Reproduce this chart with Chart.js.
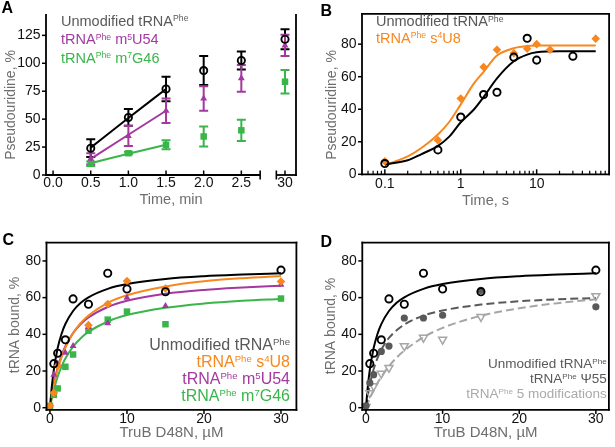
<!DOCTYPE html>
<html><head><meta charset="utf-8">
<script src="https://cdn.jsdelivr.net/npm/chart.js@4.4.1/dist/chart.umd.min.js"></script>
<style>
html,body{margin:0;padding:0;background:#fff;}
#fig{position:relative;width:615px;height:447px;overflow:hidden;font-family:"Liberation Sans",Arial,Helvetica,sans-serif;}
#fig canvas{position:absolute;}
.t{position:absolute;white-space:nowrap;line-height:1;}
.p{font-size:0.6em;position:relative;top:-0.52em;}
.L{font-weight:bold;color:#000;font-size:16px;}
</style></head><body>
<div id="fig">
<canvas id="cA"></canvas><canvas id="cB"></canvas><canvas id="cC"></canvas><canvas id="cD"></canvas>

<div class="t L" style="left:1.5px;top:0px">A</div>
<div class="t L" style="left:320.5px;top:2.5px">B</div>
<div class="t L" style="left:2.5px;top:231.8px">C</div>
<div class="t L" style="left:320.5px;top:233.5px">D</div>

<div class="t" style="left:61px;top:13.7px;font-size:14.5px;color:#58595b">Unmodified tRNA<span class="p">Phe</span></div>
<div class="t" style="left:61px;top:32.2px;font-size:14.5px;color:#a3399f">tRNA<span class="p">Phe</span> m<span class="p">5</span>U54</div>
<div class="t" style="left:61px;top:50.7px;font-size:14.5px;color:#39b54a">tRNA<span class="p">Phe</span> m<span class="p">7</span>G46</div>

<div class="t" style="left:376px;top:14.4px;font-size:14.5px;color:#58595b">Unmodified tRNA<span class="p">Phe</span></div>
<div class="t" style="left:376px;top:31px;font-size:14.5px;color:#f7871f">tRNA<span class="p">Phe</span> s<span class="p">4</span>U8</div>

<div class="t" style="right:325px;top:336.8px;font-size:16px;color:#58595b">Unmodified tRNA<span class="p">Phe</span></div>
<div class="t" style="right:325px;top:354px;font-size:16px;color:#f7871f">tRNA<span class="p">Phe</span> s<span class="p">4</span>U8</div>
<div class="t" style="right:325px;top:371.2px;font-size:16px;color:#a3399f">tRNA<span class="p">Phe</span> m<span class="p">5</span>U54</div>
<div class="t" style="right:325px;top:388.4px;font-size:16px;color:#39b54a">tRNA<span class="p">Phe</span> m<span class="p">7</span>G46</div>

<div class="t" style="right:8.3px;top:356.9px;font-size:13.5px;color:#58595b">Unmodified tRNA<span class="p">Phe</span></div>
<div class="t" style="right:8.3px;top:371.9px;font-size:13.5px;color:#58595b">tRNA<span class="p">Phe</span> Ψ55</div>
<div class="t" style="right:8.3px;top:386.9px;font-size:13.5px;color:#a9a9a9">tRNA<span class="p">Phe</span> 5 modifications</div>
</div>

<script>
// ================= DATA =================
// Panel A : pseudouridine formation (%), time in min
const A_TIMES      = [0.5, 1, 1.5, 2, 2.5, 30];
const A_UNMOD      = [24, 51.5, 77, 93.5, 102.5, 121.5];
const A_UNMOD_ERR  = [8, 7.5, 11, 13, 8, 9];
const A_M5U54      = [14.5, 35, 57.5, 68.5, 86.5, 116];
const A_M5U54_ERR  = [5, 9, 11, 11, 12, 9.5];
const A_M7G46      = [10, 19.5, 27, 34.5, 40, 83.5];
const A_M7G46_ERR  = [2, 1.2, 4, 9, 9.5, 10.5];
const A_FIT_TIMES  = [0.5, 1, 1.5];
const A_UNMOD_FIT  = [24.5, 51, 77];
const A_M5U54_FIT  = [14.5, 36, 57.5];
const A_M7G46_FIT  = [10.5, 19, 27];
const A_X_TICKS    = [0, 0.5, 1, 1.5, 2, 2.5, 30];
const A_X_LABELS   = ['0.0', '0.5', '1.0', '1.5', '2.0', '2.5', '30'];
const A_Y_TICKS    = [0, 25, 50, 75, 100, 125];

// Panel B : pseudouridine (%), time in s (log)
const B_UNMOD_T    = [0.1, 0.5, 1, 2, 3, 5, 7.5, 10, 30];
const B_UNMOD      = [6.6, 15, 35.2, 49, 50.4, 72, 83.6, 70.2, 72.6];
const B_S4U8_T     = [0.1, 0.5, 1, 2, 3, 5, 7.5, 10, 15, 60];
const B_S4U8       = [8, 21, 46.6, 66, 76.6, 74.4, 77.2, 80, 76.6, 83.4];
const B_FIT_T      = [0.1, 0.2, 0.3, 0.5, 0.7, 1, 1.5, 2, 3, 5, 7.5, 10, 20, 60];
const B_UNMOD_FIT  = [6, 8.6, 12.3, 17.5, 23, 32, 40, 47.5, 59, 69.5, 73.6, 75, 75.6, 75.6];
const B_S4U8_FIT   = [5.6, 11, 16, 24.5, 32, 43, 56, 63, 73, 77.5, 78.8, 79.1, 79.2, 79.2];
const B_X_TICKS    = [0.1, 1, 10];
const B_X_LABELS   = ['0.1', '1', '10'];
const B_X_MINOR    = [0.06, 0.07, 0.08, 0.09, 0.2, 0.3, 0.4, 0.5, 0.6, 0.7, 0.8, 0.9,
                      2, 3, 4, 5, 6, 7, 8, 9, 20, 30, 40, 50, 60, 70, 80, 90];
const B_Y_TICKS    = [0, 20, 40, 60, 80];

// Panels C & D : tRNA bound (%), TruB D48N (µM)
const CONC         = [0, 0.5, 1, 2, 3, 5, 7.5, 10, 15, 30];
const BIND_UNMOD   = [null, 24, 29.7, 37, 59.3, 56.4, 73.3, 64.7, 63.2, 75];
const BIND_S4U8    = [1, 8, 22.7, null, null, 45, 56.5, 69, 65, 68.8];
const BIND_M5U54   = [1, 18, 24, 30, 33.6, 44, 46, 60, 55.5, 67];
const BIND_M7G46   = [1, 7, 10.5, 22.3, 29, 42, 48, 52.4, 45.5, 59.5];
const BIND_PSI55   = [1, 13.5, 18, 30.7, 33.6, 48.9, 48.9, 50.4, 64, 55];
const BIND_5MOD    = [0.5, 8, 11.8, 18.6, 21.8, 33.6, 38.2, 37.1, 49.5, 60.9];
const FIT_CONC     = [0, 0.25, 0.5, 1, 1.5, 2, 3, 4, 5, 7.5, 10, 15, 20, 25, 30];
const FIT_UNMOD    = [0, 11.9, 20.6, 32.5, 40.2, 45.6, 52.7, 57.2, 60.2, 64.8, 67.4, 70.2, 71.7, 72.6, 73.3];
const FIT_S4U8     = [0, 6.4, 11.9, 20.7, 27.4, 32.7, 40.6, 46.2, 50.3, 57.2, 61.3, 66.1, 68.9, 70.6, 71.8];
const FIT_M5U54    = [0, 7.1, 12.9, 21.9, 28.4, 33.5, 40.7, 45.6, 49.2, 54.9, 58.3, 62.1, 64.2, 65.5, 66.5];
const FIT_M7G46    = [0, 5.2, 9.7, 16.9, 22.4, 26.8, 33.3, 37.9, 41.3, 47.0, 50.5, 54.5, 56.8, 58.3, 59.3];
const FIT_PSI55    = [0, 6.9, 12.5, 21, 27, 31.6, 38, 42.2, 45.3, 50.2, 53, 56.2, 58, 59.1, 59.8];
const FIT_5MOD     = [0, 2.6, 5.1, 9.5, 13.4, 16.8, 22.6, 27.3, 31.1, 38.4, 43.5, 50.1, 54.2, 57, 59.1];
const CD_X_TICKS   = [0, 10, 20, 30];
const CD_Y_TICKS   = [0, 20, 40, 60, 80];

// ================= STYLE / LAYOUT =================
const C_BLACK = '#000000', C_MAG = '#a3399f', C_GRN = '#39b54a', C_ORG = '#f7871f',
      C_DG = '#595959', C_LG = '#a6a6a6', C_TITLE = '#6e6e6e';
const FONT = '"Liberation Sans", Arial, Helvetica, sans-serif';
Chart.defaults.font.family = FONT;
Chart.defaults.font.size = 14;
Chart.defaults.color = '#111';

// broken time axis of panel A: 30 min drawn after a gap
const A_BREAK = { start: 2.75, end: 2.965, farPos: 3.08 };
const posA = t => (t > A_BREAK.end ? A_BREAK.farPos : t);

const GEO = {
  A: { x: 0,   y: 0,   w: 307, h: 223, l: 46,   t: 10,   r: 296,   b: 175,   pb: 10.6 },
  B: { x: 307, y: 0,   w: 308, h: 223, l: 55,   t: 10,   r: 304.5, b: 174.3, pb: 9.6 },
  C: { x: 0,   y: 223, w: 307, h: 224, l: 46.5, t: 19.6, r: 296.4, b: 186.9, pb: 1 },
  D: { x: 307, y: 223, w: 308, h: 224, l: 55.3, t: 19.6, r: 303,   b: 186.9, pb: 1 }
};

// ================= PLUGINS =================
const errorBars = {
  id: 'errorBars',
  beforeDatasetsDraw(chart) {
    const ctx = chart.ctx, ys = chart.scales.y;
    chart.data.datasets.forEach((ds, i) => {
      if (!ds.errors) return;
      const meta = chart.getDatasetMeta(i);
      ctx.save();
      ctx.strokeStyle = ds.errColor; ctx.lineWidth = 2;
      meta.data.forEach((pt, j) => {
        const v = ds.data[j].y, e = ds.errors[j];
        const y1 = ys.getPixelForValue(v + e), y2 = ys.getPixelForValue(v - e), x = pt.x, w = 4.5;
        ctx.beginPath();
        ctx.moveTo(x, y1); ctx.lineTo(x, y2);
        ctx.moveTo(x - w, y1); ctx.lineTo(x + w, y1);
        ctx.moveTo(x - w, y2); ctx.lineTo(x + w, y2);
        ctx.stroke();
      });
      ctx.restore();
    });
  }
};

const deco = {
  id: 'deco',
  afterDraw(chart, _a, o) {
    const { ctx, chartArea: a } = chart;
    const xs = chart.scales.x, ys = chart.scales.y;
    ctx.save();
    ctx.strokeStyle = '#000';
    const line = (x1, y1, x2, y2) => { ctx.beginPath(); ctx.moveTo(x1, y1); ctx.lineTo(x2, y2); ctx.stroke(); };
    ctx.lineWidth = 1.8;
    const h = 0.9;
    if (o.left) line(a.left, a.top - (o.top ? h : 0), a.left, a.bottom + h);
    if (o.right) line(a.right, a.top - (o.top ? h : 0), a.right, a.bottom + h);
    if (o.top) line(a.left - h, a.top, a.right + h, a.top);
    if (o.xBreak) {
      const p1 = xs.getPixelForValue(o.xBreak[0]), p2 = xs.getPixelForValue(o.xBreak[1]);
      line(a.left - h, a.bottom, p1, a.bottom);
      line(p2, a.bottom, a.right + h, a.bottom);
      ctx.lineWidth = 1.6;
      line(p1, a.bottom - 4.5, p1, a.bottom + 4.5);
      line(p2, a.bottom - 4.5, p2, a.bottom + 4.5);
    } else {
      line(a.left - h, a.bottom, a.right + h, a.bottom);
    }
    ctx.lineWidth = 1.5;
    const xt = o.xTick;
    xs.ticks.forEach(t => {
      const p = xs.getPixelForValue(t.value);
      line(p, a.bottom, p, a.bottom + (xt.dir === 'in' ? -xt.len : xt.len));
    });
    if (o.xMinor) {
      ctx.lineWidth = 1.2;
      o.xMinor.values.forEach(v => {
        const p = xs.getPixelForValue(v);
        line(p, a.bottom, p, a.bottom + (o.xMinor.dir === 'in' ? -o.xMinor.len : o.xMinor.len));
      });
    }
    ctx.lineWidth = 1.5;
    const yt = o.yTick;
    ys.ticks.forEach(t => {
      const p = ys.getPixelForValue(t.value);
      line(a.left, p, a.left + (yt.dir === 'in' ? yt.len : -yt.len), p);
    });
    if (o.yTitle) {
      ctx.translate(o.yTitle.cx, o.yTitle.cy);
      ctx.rotate(-Math.PI / 2);
      ctx.fillStyle = C_TITLE;
      ctx.font = o.yTitle.size + 'px ' + FONT;
      ctx.textAlign = 'center'; ctx.textBaseline = 'middle';
      ctx.fillText(o.yTitle.text, 0, 0);
    }
    ctx.restore();
  }
};

// ================= HELPERS =================
const pts = (xs, ys, map) => xs.map((x, i) => ({ x: map ? map(x) : x, y: ys[i] })).filter(p => p.y != null);

function marks(xs, ys, style, map) {
  return Object.assign({ data: pts(xs, ys, map), showLine: false, clip: false }, style);
}
function curve(xs, ys, color, dash, map) {
  return { data: pts(xs, ys, map), showLine: true, borderColor: color, borderWidth: 2,
           pointRadius: 0, borderDash: dash || [], cubicInterpolationMode: 'monotone',
           fill: false, clip: false };
}
function xScale(g, o) {
  return {
    type: o.type || 'linear', min: o.min, max: o.max,
    afterFit: s => { s.height = g.h - g.pb - g.b; },
    afterBuildTicks: s => { s.ticks = o.ticks.map(v => ({ value: v })); },
    ticks: { autoSkip: false, maxRotation: 0, minRotation: 0, padding: o.pad, color: '#111',
             font: { size: 14 }, callback: (v, i) => o.labels ? o.labels[i] : String(v) },
    grid: { display: false, drawTicks: false },
    border: { display: false },
    title: { display: true, text: o.title, color: C_TITLE, font: { size: o.tsize }, padding: { top: 0, bottom: 4 } }
  };
}
function yScale(g, o) {
  return {
    type: 'linear', min: o.min, max: o.max,
    afterFit: s => { s.width = g.l; },
    afterBuildTicks: s => { s.ticks = o.ticks.map(v => ({ value: v })); },
    ticks: { autoSkip: false, padding: 5.5, color: '#111', font: { size: 14 }, callback: v => String(v) },
    grid: { display: false, drawTicks: false },
    border: { display: false },
    title: { display: false }
  };
}
function build(id, g, datasets, xs, ys, decoOpts) {
  const cv = document.getElementById(id);
  cv.width = g.w; cv.height = g.h;
  cv.style.left = g.x + 'px'; cv.style.top = g.y + 'px';
  cv.style.width = g.w + 'px'; cv.style.height = g.h + 'px';
  return new Chart(cv, {
    type: 'scatter',
    data: { datasets },
    options: {
      responsive: false, animation: false, devicePixelRatio: 1, events: [],
      layout: { padding: { left: 0, top: g.t, right: g.w - g.r, bottom: g.pb } },
      plugins: { legend: { display: false }, tooltip: { enabled: false }, deco: decoOpts },
      scales: { x: xs, y: ys }
    },
    plugins: [errorBars, deco]
  });
}

const openCircle = c => ({ pointStyle: 'circle', pointRadius: 3.6, pointBorderWidth: 1.9,
                           pointBorderColor: c, pointBackgroundColor: 'rgba(0,0,0,0)' });
const filled = (shape, r, c, rot) => ({ pointStyle: shape, pointRadius: r, pointBorderWidth: 0,
                           pointBorderColor: c, pointBackgroundColor: c, pointRotation: rot || 0 });

// ================= PANEL A =================
build('cA', GEO.A, [
  marks(A_TIMES, A_UNMOD, Object.assign(openCircle(C_BLACK), { errors: A_UNMOD_ERR, errColor: C_BLACK }), posA),
  marks(A_TIMES, A_M5U54, Object.assign(filled('triangle', 4, C_MAG), { errors: A_M5U54_ERR, errColor: C_MAG }), posA),
  marks(A_TIMES, A_M7G46, Object.assign(filled('rect', 4.6, C_GRN), { errors: A_M7G46_ERR, errColor: C_GRN }), posA),
  curve(A_FIT_TIMES, A_UNMOD_FIT, C_BLACK),
  curve(A_FIT_TIMES, A_M5U54_FIT, C_MAG),
  curve(A_FIT_TIMES, A_M7G46_FIT, C_GRN)
],
  xScale(GEO.A, { min: -0.094, max: 3.226, ticks: A_X_TICKS.map(posA), labels: A_X_LABELS, pad: 0, title: 'Time, min', tsize: 14.5 }),
  yScale(GEO.A, { min: 0, max: 144.2, ticks: A_Y_TICKS }),
  { left: true, right: true, top: false, xBreak: [A_BREAK.start, A_BREAK.end],
    xTick: { dir: 'in', len: 4.5 }, yTick: { dir: 'out', len: 4 },
    yTitle: { text: 'Pseudouridine, %', cx: 11, cy: 105, size: 14 } });

// ================= PANEL B =================
build('cB', GEO.B, [
  marks(B_UNMOD_T, B_UNMOD, openCircle(C_BLACK)),
  marks(B_S4U8_T, B_S4U8, filled('rectRot', 4.3, C_ORG)),
  curve(B_FIT_T, B_UNMOD_FIT, C_BLACK),
  curve(B_FIT_T, B_S4U8_FIT, C_ORG)
],
  xScale(GEO.B, { type: 'logarithmic', min: 0.05, max: 90, ticks: B_X_TICKS, labels: B_X_LABELS, pad: 1.5, title: 'Time, s', tsize: 14.5 }),
  yScale(GEO.B, { min: 0, max: 98.6, ticks: B_Y_TICKS }),
  { left: true, right: true, top: true,
    xTick: { dir: 'in', len: 5 }, xMinor: { values: B_X_MINOR, dir: 'in', len: 3.5 }, yTick: { dir: 'out', len: 4 },
    yTitle: { text: 'Pseudouridine, %', cx: 25.5, cy: 105, size: 14 } });

// ================= PANEL C =================
build('cC', GEO.C, [
  marks(CONC, BIND_UNMOD, openCircle(C_BLACK)),
  marks(CONC, BIND_S4U8, filled('rectRot', 4.3, C_ORG)),
  marks(CONC, BIND_M5U54, filled('triangle', 4, C_MAG)),
  marks(CONC, BIND_M7G46, filled('rect', 4.6, C_GRN)),
  curve(FIT_CONC, FIT_UNMOD, C_BLACK),
  curve(FIT_CONC, FIT_S4U8, C_ORG),
  curve(FIT_CONC, FIT_M5U54, C_MAG),
  curve(FIT_CONC, FIT_M7G46, C_GRN)
],
  xScale(GEO.C, { min: -0.45, max: 32, ticks: CD_X_TICKS, pad: 0.5, title: 'TruB D48N, µM', tsize: 15 }),
  yScale(GEO.C, { min: -1.2, max: 90, ticks: CD_Y_TICKS }),
  { left: true, right: true, top: true,
    xTick: { dir: 'out', len: 4 }, yTick: { dir: 'out', len: 4 },
    yTitle: { text: 'tRNA bound, %', cx: 15, cy: 102, size: 14 } });

// ================= PANEL D =================
build('cD', GEO.D, [
  marks(CONC, BIND_UNMOD, openCircle(C_BLACK)),
  marks(CONC, BIND_PSI55, filled('circle', 3.6, C_DG)),
  marks(CONC, BIND_5MOD, { pointStyle: 'triangle', pointRadius: 4.6, pointBorderWidth: 1.5, pointRotation: 180,
                           pointBorderColor: C_LG, pointBackgroundColor: 'rgba(0,0,0,0)' }),
  curve(FIT_CONC, FIT_UNMOD, C_BLACK),
  curve(FIT_CONC, FIT_PSI55, C_DG, [8, 4]),
  curve(FIT_CONC, FIT_5MOD, C_LG, [8, 4])
],
  xScale(GEO.D, { min: -0.48, max: 31.7, ticks: CD_X_TICKS, pad: 0.5, title: 'TruB D48N, µM', tsize: 15 }),
  yScale(GEO.D, { min: -1.2, max: 90, ticks: CD_Y_TICKS }),
  { left: true, right: true, top: true,
    xTick: { dir: 'out', len: 4 }, yTick: { dir: 'out', len: 4 },
    yTitle: { text: 'tRNA bound, %', cx: 23.8, cy: 103, size: 14 } });
</script>
</body></html>
